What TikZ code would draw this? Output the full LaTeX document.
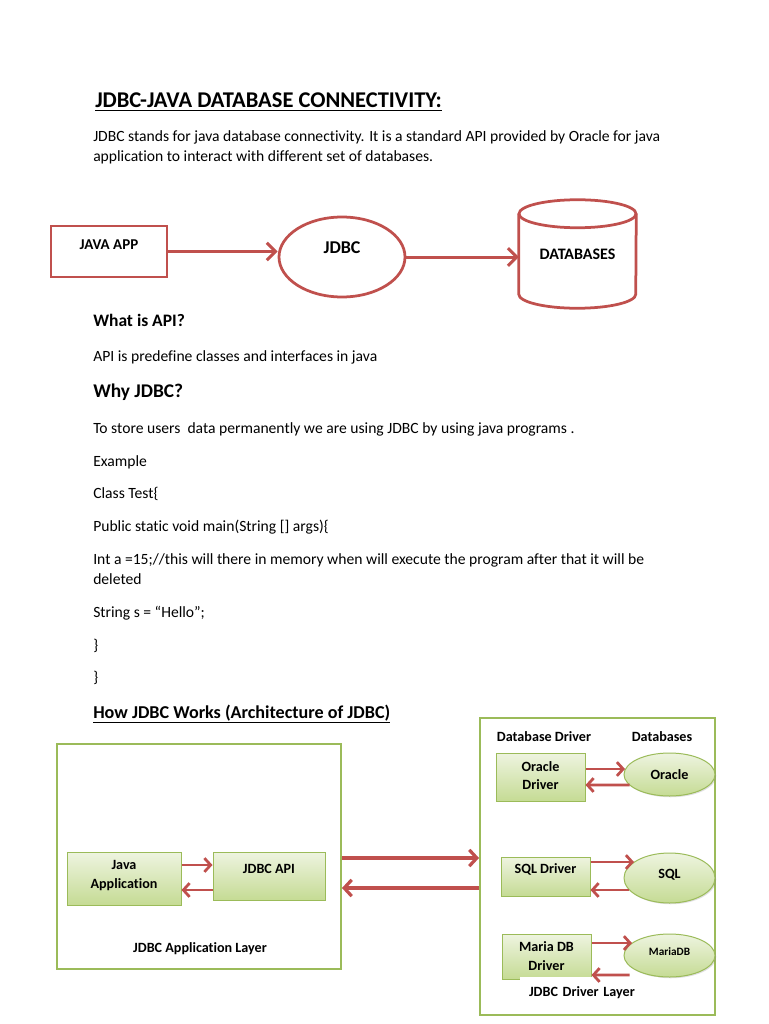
\documentclass[tikz,border=0pt]{standalone}
\usepackage{fontspec}
\setmainfont{Carlito}[Ligatures=NoCommon]
\usetikzlibrary{arrows.meta, shapes.geometric, shadows, calc}

\definecolor{jred}{HTML}{C0504D}
\definecolor{jgreen}{HTML}{9BBB59}
\definecolor{jlight}{HTML}{EEF4E0}
\definecolor{jdark}{HTML}{C5DB94}

\begin{document}
\begin{tikzpicture}[x=0.8pt, y=-0.8pt,
  every node/.style={inner sep=0pt},
  txt/.style={anchor=base west, font=\fontsize{12.5}{15}\selectfont},
  lbl/.style={anchor=base, font=\bfseries\fontsize{11.3}{15}\selectfont},
  redshape/.style={draw=jred, line width=2.2pt, font=\bfseries\fontsize{12}{14}\selectfont},
  gbox/.style={draw=jgreen, line width=0.8pt, top color=jlight, bottom color=jdark,
    drop shadow={shadow xshift=1pt, shadow yshift=-1pt, opacity=0.25},
    align=center, font=\bfseries\fontsize{11.3}{15}\selectfont, text height=7.3pt},
  twoline/.style={text height=22.3pt},
  gell/.style={gbox, ellipse},
  layer/.style={draw=jgreen, line width=1.6pt},
  toparrow/.style={draw=jred, line width=2.4pt, -{Straight Barb[length=7pt,width=14pt]}},
  bigarrow/.style={draw=jred, line width=2.6pt, -{Straight Barb[length=6pt,width=13pt]}},
  smallarrow/.style={draw=jred, line width=2.2pt, -{Straight Barb[length=5pt,width=11pt]}}]
  \useasboundingbox (0,0) rectangle (768,1024);
  \fill[white] (0,0) rectangle (768,1024);

  % page text
  \node[txt, font=\bfseries\fontsize{18}{21}\selectfont] (title) at (95,108) {\underline{JDBC-JAVA DATABASE CONNECTIVITY:}};
  \node[txt] (intro1) at (93,142) {JDBC stands for java database connectivity. It is a standard API provided by Oracle for java};
  \node[txt] (intro2) at (93,162) {application to interact with different set of databases.};

  % java app -> jdbc -> databases
  \node[redshape, minimum width=92.8pt, minimum height=40.8pt, text height=7.7pt, text depth=10.4pt] (app) at (109,251.5) {JAVA APP};
  \node[redshape, ellipse, minimum width=100.8pt, minimum height=64pt, font=\bfseries\fontsize{14.4}{16}\selectfont, text height=9.3pt, text depth=14.4pt] (jdbc) at (342,257) {JDBC};
  \node[font=\bfseries\fontsize{12.8}{14}\selectfont, minimum width=93.6pt, minimum height=64pt, text height=8.2pt] (db) at (577.5,254) {DATABASES};
  \draw[redshape] (db.north west) -- (db.south west) arc[start angle=180, end angle=360, x radius=46.8pt, y radius=11.2pt] -- (db.north east);
  \draw[redshape] (db.north) ellipse [x radius=46.8pt, y radius=11.2pt];
  \draw[toparrow] (app.east) -- (app.east -| jdbc.west);
  \draw[toparrow] (jdbc.east) -- (jdbc.east -| db.west);

  \node[txt, font=\bfseries\fontsize{14}{16}\selectfont] (whatapi) at (93,326.5) {What is API?};
  \node[txt] (apidef) at (93,361) {API is predefine classes and interfaces in java};
  \node[txt, font=\bfseries\fontsize{15.5}{18}\selectfont] (why) at (93,397) {Why JDBC?};
  \node[txt] (line1) at (93,433) {To store users\ \ data permanently we are using JDBC by using java programs .};
  \node[txt] (line2) at (93,466) {Example};
  \node[txt] (line3) at (93,498) {Class Test\{};
  \node[txt] (line4) at (93,531) {Public static void main(String [] args)\{};
  \node[txt] (line5) at (93,564) {Int a =15;//this will there in memory when will execute the program after that it will be};
  \node[txt] (line6) at (93,584) {deleted};
  \node[txt] (line7) at (93,617) {String s = “Hello”;};
  \node[txt] (line8) at (93,650) {\}};
  \node[txt] (line9) at (93,682) {\}};
  \node[txt, font=\bfseries\fontsize{14.5}{17}\selectfont] (howtitle) at (93,718) {\underline{How JDBC Works (Architecture of JDBC)}};

  % application layer
  \node[layer, minimum width=227.2pt, minimum height=180pt] (applayer) at (199,856.5) {};
  \node[gbox, twoline, minimum width=91.2pt, minimum height=42.4pt, text depth=6.4pt] (japp) at (124,878.5) {Java\\Application};
  \node[gbox, minimum width=89.6pt, minimum height=38.4pt, text depth=11.2pt] (api) at (269,876) {JDBC API};
  \node[lbl] (applbl) at (200,952.5) {JDBC Application Layer};
  \draw[smallarrow] (japp.east |- 0,865) -- (api.west |- 0,865);
  \draw[smallarrow] (api.west |- 0,890) -- (japp.east |- 0,890);

  % driver layer
  \node[layer, minimum width=188pt, minimum height=237.6pt] (drvlayer) at (597.5,866.5) {};
  \node[lbl] (drvhead) at (544,741.5) {Database Driver};
  \node[lbl] (dbhead) at (662,741.5) {Databases};
  \node[gbox, twoline, minimum width=71.2pt, minimum height=38.4pt, text depth=1.6pt] (odrv) at (540.5,777) {Oracle\\Driver};
  \node[gell, minimum width=72.8pt, minimum height=34.4pt, text depth=0pt] (ora) at (669.5,774.5) {Oracle};
  \node[gbox, minimum width=71.2pt, minimum height=31.2pt, text depth=12pt] (sqldrv) at (545.5,876.5) {SQL Driver};
  \node[gell, minimum width=72.8pt, minimum height=40pt, text depth=6.4pt] (sql) at (669.5,878) {SQL};
  \node[gbox, twoline, minimum width=71.2pt, minimum height=36pt, text depth=0pt] (mdrv) at (546.5,956.5) {Maria DB\\Driver};
  \node[gell, minimum width=72.8pt, minimum height=34.4pt, text depth=5.6pt, font=\bfseries\fontsize{9}{11}\selectfont, text height=5.8pt] (mdb) at (669.5,955.5) {MariaDB};
  \node[fill=white, text width=96pt, inner xsep=7.2pt, minimum height=24.8pt, align=left, font=\bfseries\fontsize{11.3}{13}\selectfont] (drvlbl) at (589,992.5) {JDBC Driver Layer};

  \draw[smallarrow] (odrv.east |- 0,769) -- ($(ora.west)+(1.5,-5.5)$);
  \draw[smallarrow] ($(ora.west)+(6,10.5)$) -- (odrv.east |- 0,785);
  \draw[smallarrow] (sqldrv.east |- 0,862) -- ($(sql.west)+(10.5,-16)$);
  \draw[smallarrow] ($(sql.west)+(5.5,12)$) -- (sqldrv.east |- 0,890);
  \draw[smallarrow] (mdrv.east |- 0,943) -- ($(mdb.west)+(8.5,-12.5)$);
  \draw[smallarrow] ($(mdb.west)+(6,19.5)$) -- (mdrv.east |- 0,975);

  % layer to layer
  \draw[bigarrow] (applayer.east |- 0,858) -- (drvlayer.west |- 0,858);
  \draw[bigarrow] (drvlayer.west |- 0,888) -- (applayer.east |- 0,888);
\end{tikzpicture}
\end{document}
